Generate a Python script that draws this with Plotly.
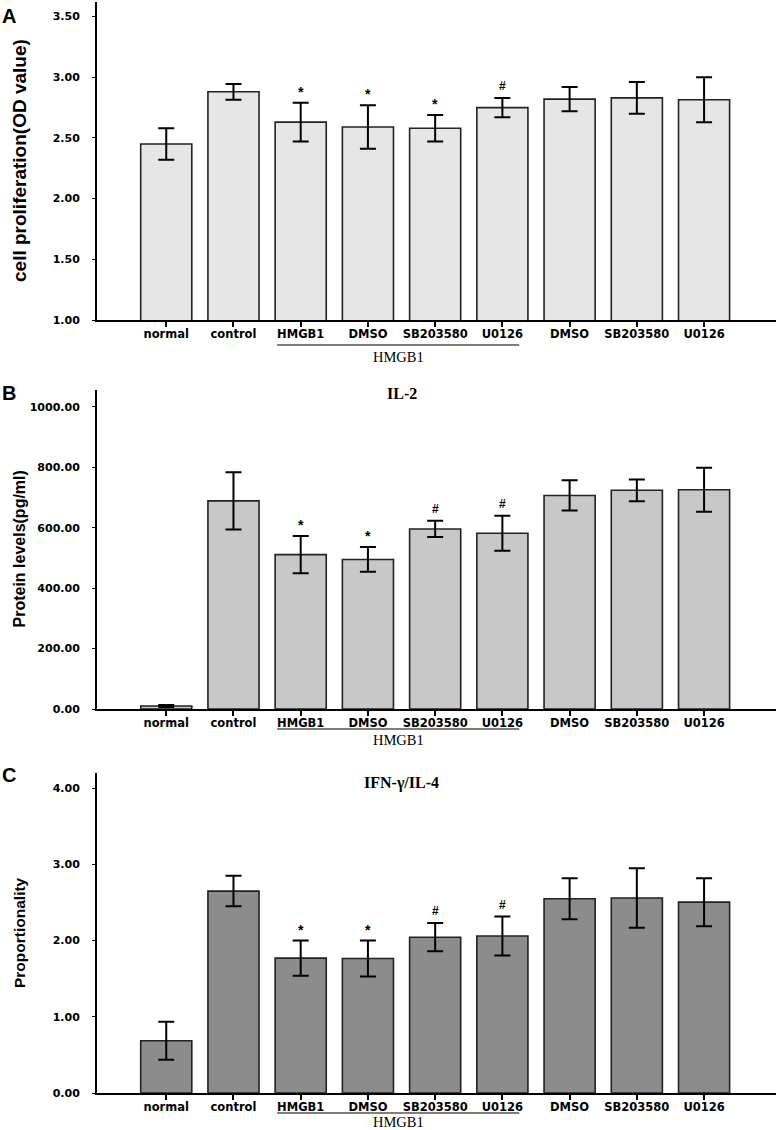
import plotly.graph_objects as go

# ---- data ----
groups = ["normal", "control", "HMGB1", "DMSO", "SB203580", "U0126", "DMSO", "SB203580", "U0126"]

od_mean = [2.45, 2.88, 2.63, 2.59, 2.58, 2.75, 2.82, 2.83, 2.815]
od_err = [0.13, 0.065, 0.16, 0.18, 0.11, 0.08, 0.10, 0.13, 0.185]
od_marks = ["", "", "*", "*", "*", "#", "", "", ""]

il2_mean = [10, 689, 511, 495, 596, 582, 707, 724, 726]
il2_err = [3, 95, 62, 41, 27, 58, 50, 36, 73]
il2_marks = ["", "", "*", "*", "#", "#", "", "", ""]

ratio_mean = [0.685, 2.65, 1.77, 1.765, 2.045, 2.06, 2.55, 2.56, 2.505]
ratio_err = [0.25, 0.20, 0.23, 0.235, 0.185, 0.255, 0.27, 0.39, 0.315]
ratio_marks = ["", "", "*", "*", "#", "#", "", "", ""]

W, H = 777, 1130
ML, MR, MT, MB = 97, 1, 2, 37
PH = H - MT - MB


def py(ypx):
    # pixel row -> paper y
    return (H - MB - ypx) / PH


def px(xpx):
    return (xpx - ML) / (W - ML - MR)


xs = list(range(len(groups)))
xrange_ = [-1.03, 9.07]

panels = [
    dict(mean=od_mean, err=od_err, marks=od_marks, color="#e6e6e6",
         top=2, bottom=320, yr=[1.0, 3.62], ticks=[1.0, 1.5, 2.0, 2.5, 3.0, 3.5],
         ytitle="cell proliferation(OD value)", tsize=19, letter="A", letter_y=16,
         title=None, title_y=None, line_y=345, hm_y=357),
    dict(mean=il2_mean, err=il2_err, marks=il2_marks, color="#c8c8c8",
         top=390, bottom=709, yr=[0, 1056], ticks=[0, 200, 400, 600, 800, 1000],
         ytitle="Protein levels(pg/ml)", tsize=16, letter="B", letter_y=393,
         title="IL-2", title_y=393, line_y=729, hm_y=740),
    dict(mean=ratio_mean, err=ratio_err, marks=ratio_marks, color="#8c8c8c",
         top=773, bottom=1093, yr=[0, 4.2], ticks=[0, 1, 2, 3, 4],
         ytitle="Proportionality", tsize=15.5, letter="C", letter_y=775,
         title="IFN-\u03b3/IL-4", title_y=783, line_y=1113, hm_y=1122),
]

fig = go.Figure()
annotations = []
shapes = []
tickfont = dict(family="DejaVu Sans, Verdana", size=11, color="black", weight="bold")

for i, p in enumerate(panels, start=1):
    xa = "x" if i == 1 else f"x{i}"
    ya = "y" if i == 1 else f"y{i}"
    fig.add_trace(go.Bar(
        x=xs, y=p["mean"], width=0.76, xaxis=xa, yaxis=ya,
        marker=dict(color=p["color"], line=dict(color="#222222", width=1.6)),
        error_y=dict(type="data", array=p["err"], color="black", thickness=2, width=8),
        showlegend=False,
    ))
    dom = [py(p["bottom"]), py(p["top"])]
    fig.layout[f"xaxis{'' if i == 1 else i}"] = dict(
        domain=[0, 1], range=xrange_, anchor=ya, tickmode="array", tickvals=xs,
        ticktext=groups, ticks="outside", ticklen=5, tickwidth=2, tickcolor="black",
        showline=True, linecolor="black", linewidth=2, showgrid=False, zeroline=False,
        tickfont=dict(tickfont, size=11.5), ticklabelstandoff=-3,
        automargin=False, fixedrange=True,
    )
    fig.layout[f"yaxis{'' if i == 1 else i}"] = dict(
        domain=dom, range=p["yr"], anchor=xa, tickmode="array", tickvals=p["ticks"],
        tickformat=".2f", ticks="outside", ticklen=3, tickwidth=1, tickcolor="black",
        showline=True, linecolor="black", linewidth=2, showgrid=False, zeroline=False,
        tickfont=tickfont, ticklabelstandoff=10, automargin=False, fixedrange=True,
    )
    # significance marks
    for k, m in enumerate(p["marks"]):
        if m:
            annotations.append(dict(
                x=xs[k], y=p["mean"][k] + p["err"][k], xref=xa, yref=ya, text=m,
                showarrow=False, yanchor="bottom", yshift=1 if m == "*" else 3,
                font=dict(family="Liberation Sans, Arial", size=14 if m == "*" else 12,
                          color="black", weight="bold"),
            ))
    # panel letter
    annotations.append(dict(
        x=px(0), y=py(p["letter_y"]), xref="paper", yref="paper", text=p["letter"],
        showarrow=False, xanchor="left", yanchor="middle",
        font=dict(family="Liberation Sans, Arial", size=20, color="black", weight="bold"),
    ))
    # y title
    annotations.append(dict(
        x=px(19), y=(dom[0] + dom[1]) / 2, xref="paper", yref="paper", text=p["ytitle"],
        textangle=-90, showarrow=False, xanchor="center", yanchor="middle",
        font=dict(family="Liberation Sans, Arial", size=p["tsize"], color="black",
                  weight="bold"),
    ))
    if p["title"]:
        annotations.append(dict(
            x=3.5, y=py(p["title_y"]), xref=xa, yref="paper", text=p["title"],
            showarrow=False, xanchor="center", yanchor="middle",
            font=dict(family="Liberation Serif, Times New Roman", size=16, color="black",
                      weight="bold"),
        ))
    # HMGB1 group bracket
    shapes.append(dict(type="line", xref=xa, yref="paper", x0=1.65, x1=5.25,
                       y0=py(p["line_y"]), y1=py(p["line_y"]),
                       line=dict(color="black", width=1.2)))
    annotations.append(dict(
        x=3.45, y=py(p["hm_y"]), xref=xa, yref="paper", text="HMGB1",
        showarrow=False, xanchor="center", yanchor="middle",
        font=dict(family="Liberation Serif, Times New Roman", size=14.5, color="black"),
    ))

fig.update_layout(
    width=W, height=H,
    margin=dict(l=ML, r=MR, t=MT, b=MB, autoexpand=False),
    paper_bgcolor="white", plot_bgcolor="white",
    bargap=0.2, annotations=annotations, shapes=shapes,
)

# drop the browser's default body margin so the figure sits at the page corner
fig.write_html("out.html", config={"displayModeBar": False},
               post_script="document.body.style.margin='0';")
